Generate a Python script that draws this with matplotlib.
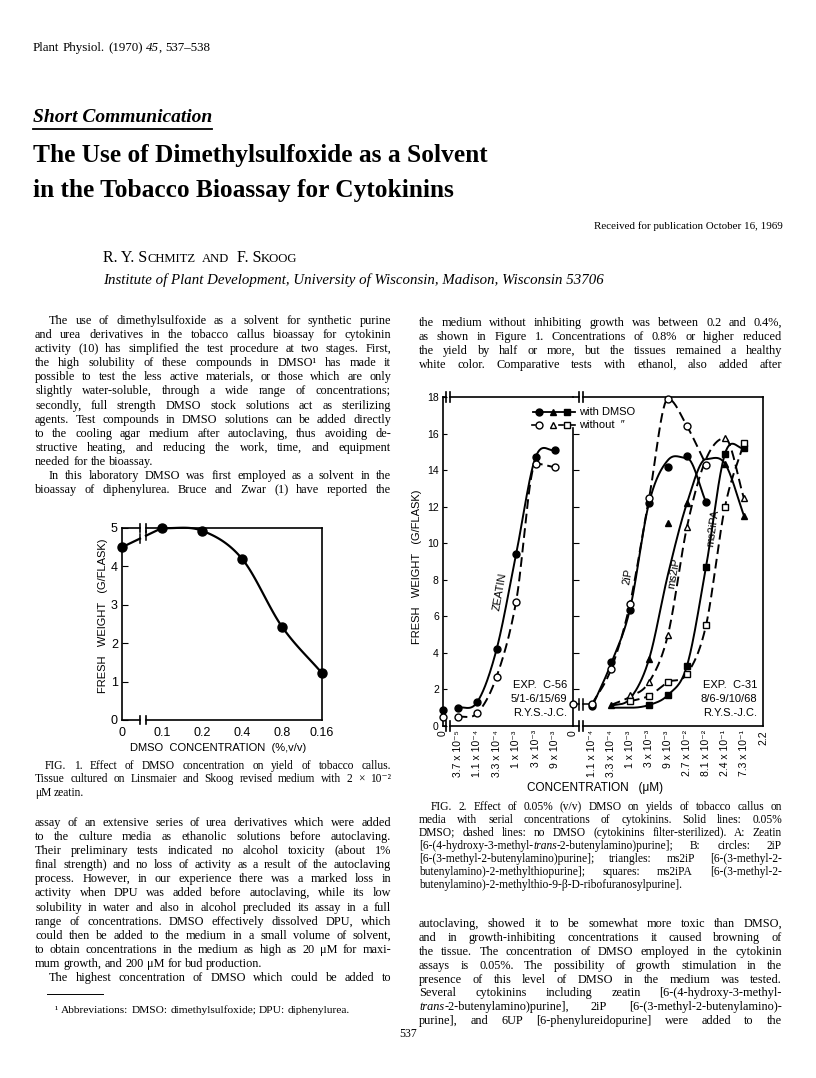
import matplotlib
matplotlib.use('Agg')
import matplotlib.pyplot as plt
import numpy as np

plt.rcParams['font.family'] = 'Liberation Sans'
SANS = ['Liberation Sans', 'DejaVu Sans']
SERIF = ['Liberation Serif', 'DejaVu Serif']

# ---- Fig. 1: yield vs DMSO concentration (categorical positions)
dmso_labels = ['0', '0.1', '0.2', '0.4', '0.8', '0.16']
dmso_weight = [4.5, 5.0, 4.93, 4.2, 2.43, 1.22]

# ---- Fig. 2 A: zeatin (positions are steps of the dilution series)
conc_a_labels = ['0', '3.7 x 10⁻⁵', '1.1 x 10⁻⁴', '3.3 x 10⁻⁴', '1 x 10⁻³', '3 x 10⁻³', '9 x 10⁻³']
conc_a_pos = [0.25, 1, 2, 3, 4, 5, 6]
zeatin_pos = [1, 2, 3, 4, 5, 6]
zeatin_dmso = [1.0, 1.3, 4.2, 9.4, 14.7, 15.1]
zeatin_none = [0.5, 0.7, 2.7, 6.8, 14.35, 14.15]
zeatin_zero = [0.9, 0.5]          # with / without DMSO at 0

# ---- Fig. 2 B: 2iP, ms2iP, ms2iPA
conc_b_labels = ['0', '1.1 x 10⁻⁴', '3.3 x 10⁻⁴', '1 x 10⁻³', '3 x 10⁻³', '9 x 10⁻³',
                 '2.7 x 10⁻²', '8.1 x 10⁻²', '2.4 x 10⁻¹', '7.3 x 10⁻¹', '2.2']
ip_pos = [1, 2, 3, 4, 5, 6, 7]
ip_dmso = [1.1, 3.5, 6.35, 12.2, 14.15, 14.75, 12.25]
ip_dmso_fit = [1.05, 3.4, 6.4, 12.2, 14.55, 14.65, 12.25]
ip_none = [1.2, 3.1, 6.7, 12.45, 17.9, 16.4, 14.3]
ip_zero = 1.2

ms2ip_pos = [2, 4, 5, 6, 8, 9]
ms2ip_dmso = [1.15, 3.65, 11.1, 12.2, 14.35, 11.5]
ms2ip_fit_pos = [2, 3, 4, 5, 6, 7, 8, 9]
ms2ip_dmso_fit = [1.1, 1.5, 3.65, 8.3, 12.2, 14.6, 14.35, 11.5]
ms2ip_none_pos = [3, 4, 5, 6, 8, 9]
ms2ip_none = [1.7, 2.4, 5.0, 10.9, 15.75, 12.45]
ms2ip_none_fit = [1.15, 1.6, 2.4, 5.0, 10.9, 14.6, 15.75, 12.45]

ms2ipa_pos = [4, 5, 6, 7, 8, 9]
ms2ipa_dmso = [1.15, 1.7, 3.3, 8.7, 14.9, 15.2]
ms2ipa_fit_pos = [2, 3, 4, 5, 6, 7, 8, 9]
ms2ipa_dmso_fit = [1.0, 1.0, 1.15, 1.7, 3.3, 8.7, 14.9, 15.2]
ms2ipa_none_pos = [3, 4, 5, 6, 7, 8, 9]
ms2ipa_none = [1.35, 1.65, 2.4, 2.85, 5.5, 12.0, 15.5]


def smooth(xs, ys, n=30):
    # cubic hermite through the points, flat tangent at local peaks
    xs = np.asarray(xs, float)
    ys = np.asarray(ys, float)
    m = np.gradient(ys, xs)
    for i in range(1, len(ys) - 1):
        if (ys[i] - ys[i - 1]) * (ys[i + 1] - ys[i]) <= 0:
            m[i] = 0
    t = np.linspace(0, 1, n)
    h00 = 2 * t**3 - 3 * t**2 + 1
    h10 = t**3 - 2 * t**2 + t
    h01 = -2 * t**3 + 3 * t**2
    h11 = t**3 - t**2
    px, py = [], []
    for i in range(len(xs) - 1):
        h = xs[i + 1] - xs[i]
        px.append(xs[i] + t * h)
        py.append(h00 * ys[i] + h10 * h * m[i] + h01 * ys[i + 1] + h11 * h * m[i + 1])
    return np.concatenate(px), np.concatenate(py)


fig = plt.figure(figsize=(8.16, 10.78), dpi=100)
fig.patch.set_facecolor('white')
page = fig.add_axes([0, 0, 1, 1])
page.set_xlim(0, 816)
page.set_ylim(1078, 0)
page.axis('off')
renderer = fig.canvas.get_renderer()


def put(x, y, s, size, style='normal', weight='normal', **kw):
    fam = SERIF if '⁻' in s else 'Liberation Serif'
    return page.text(x, y, s, fontsize=size, fontstyle=style, fontweight=weight,
                     family=fam, va='baseline', **kw)


def width(t):
    return t.get_window_extent(renderer).width


def put_word(x, base, s, size, style='normal'):
    # Agg rounds each string's bitmap on its own descent; shift so that all
    # words of a line land on the same pixel baseline
    t = put(x, base, s, size, style=style)
    _, h, d = renderer.get_text_width_height_descent(s, t.get_fontproperties(), ismath=False)
    t.set_y(base + np.floor(h) - np.floor(h - d) - d)
    return t


def word(y, w, size):
    # parts between underscores are set in italic
    texts, x = [], 0
    for k, p in enumerate(w.split('_')):
        if not p:
            continue
        t = put_word(x, y, p, size, style='italic' if k % 2 else 'normal')
        texts.append(t)
        x += width(t)
    return texts, x


def block(lines, x0, x1, y0, dy, size, indent=14, first_indent=True, last_ragged=True):
    for i, line in enumerate(lines):
        y = round(y0 + i * dy)
        left = x0 + (indent if (i == 0 and first_indent) else 0)
        groups = [word(y, w, size) for w in line.split()]
        total = sum(g[1] for g in groups)
        if (i == len(lines) - 1 and last_ragged) or len(groups) == 1:
            gap = size * 100 / 72 * 0.25
        else:
            gap = (x1 - left - total) / (len(groups) - 1)
        x = left
        for texts, w in groups:
            for t in texts:
                t.set_x(t.get_position()[0] + x)
            x += w + gap


# ---------------- header
block(['Plant Physiol. (1970) _45_, 537–538'], 33, 400, 51, 14, 9.4, first_indent=False)
sc = put(33, 122, 'Short Communication', 14, style='italic', weight='bold')
page.plot([33, 33 + width(sc)], [129, 129], color='black', lw=1.3)
put(33, 162, 'The Use of Dimethylsulfoxide as a Solvent', 18.3, weight='bold')
put(33, 197, 'in the Tobacco Bioassay for Cytokinins', 18.3, weight='bold')
put(783, 229, 'Received for publication October 16, 1969', 7.9, ha='right')

x = 103
for s, size in [('R. Y. S', 11.5), ('CHMITZ', 9.1), (' ', 0), ('AND', 9.1), (' ', 0),
                ('F. S', 11.5), ('KOOG', 9.1)]:
    if s == ' ':
        x += 7
        continue
    t = put_word(x, 262, s, size)
    x += width(t) + (3 if s.endswith('.') else 0)
put(103, 284, 'Institute of Plant Development, University of Wisconsin, Madison, Wisconsin 53706',
    10.7, style='italic')

# ---------------- body text
left_a = [
    'The use of dimethylsulfoxide as a solvent for synthetic purine',
    'and urea derivatives in the tobacco callus bioassay for cytokinin',
    'activity (10) has simplified the test procedure at two stages. First,',
    'the high solubility of these compounds in DMSO¹ has made it',
    'possible to test the less active materials, or those which are only',
    'slightly water-soluble, through a wide range of concentrations;',
    'secondly, full strength DMSO stock solutions act as sterilizing',
    'agents. Test compounds in DMSO solutions can be added directly',
    'to the cooling agar medium after autoclaving, thus avoiding de-',
    'structive heating, and reducing the work, time, and equipment',
    'needed for the bioassay.',
]
left_b = [
    'In this laboratory DMSO was first employed as a solvent in the',
    'bioassay of diphenylurea. Bruce and Zwar (1) have reported the',
]
left_c = [
    'assay of an extensive series of urea derivatives which were added',
    'to the culture media as ethanolic solutions before autoclaving.',
    'Their preliminary tests indicated no alcohol toxicity (about 1%',
    'final strength) and no loss of activity as a result of the autoclaving',
    'process. However, in our experience there was a marked loss in',
    'activity when DPU was added before autoclaving, while its low',
    'solubility in water and also in alcohol precluded its assay in a full',
    'range of concentrations. DMSO effectively dissolved DPU, which',
    'could then be added to the medium in a small volume of solvent,',
    'to obtain concentrations in the medium as high as 20 μM for maxi-',
    'mum growth, and 200 μM for bud production.',
]
left_d = ['The highest concentration of DMSO which could be added to']
right_a = [
    'the medium without inhibiting growth was between 0.2 and 0.4%,',
    'as shown in Figure 1. Concentrations of 0.8% or higher reduced',
    'the yield by half or more, but the tissues remained a healthy',
    'white color. Comparative tests with ethanol, also added after',
]
right_b = [
    'autoclaving, showed it to be somewhat more toxic than DMSO,',
    'and in growth-inhibiting concentrations it caused browning of',
    'the tissue. The concentration of DMSO employed in the cytokinin',
    'assays is 0.05%. The possibility of growth stimulation in the',
    'presence of this level of DMSO in the medium was tested.',
    'Several cytokinins including zeatin [6-(4-hydroxy-3-methyl-',
    '_trans_-2-butenylamino)purine], 2iP [6-(3-methyl-2-butenylamino)-',
    'purine], and 6UP [6-phenylureidopurine] were added to the',
]
cap1 = [
    'FIG. 1. Effect of DMSO concentration on yield of tobacco callus.',
    'Tissue cultured on Linsmaier and Skoog revised medium with 2 × 10⁻²',
    'μM zeatin.',
]
cap2 = [
    'FIG. 2. Effect of 0.05% (v/v) DMSO on yields of tobacco callus on',
    'media with serial concentrations of cytokinins. Solid lines: 0.05%',
    'DMSO; dashed lines: no DMSO (cytokinins filter-sterilized). A: Zeatin',
    '[6-(4-hydroxy-3-methyl-_trans_-2-butenylamino)purine]; B: circles: 2iP',
    '[6-(3-methyl-2-butenylamino)purine]; triangles: ms2iP [6-(3-methyl-2-',
    'butenylamino)-2-methylthiopurine]; squares: ms2iPA [6-(3-methyl-2-',
    'butenylamino)-2-methylthio-9-β-D-ribofuranosylpurine].',
]

fs = 8.8
block(left_a, 35, 391, 324, 14.1, fs)
block(left_b, 35, 391, 324 + 11 * 14.1, 14.1, fs, last_ragged=False)
block(cap1, 35, 391, 769, 13.5, 8.3, indent=10)
block(left_c, 35, 391, 826, 14.1, fs, first_indent=False)
block(left_d, 35, 391, 826 + 11 * 14.1, 14.1, fs, last_ragged=False)
block(right_a, 419, 782, 326, 14.0, fs, first_indent=False, last_ragged=False)
block(cap2, 419, 782, 810, 13.0, 8.3, indent=12)
block(right_b, 419, 782, 927, 13.9, fs, first_indent=False, last_ragged=False)

page.plot([47, 103], [994, 994], color='black', lw=0.7)
block(['¹ Abbreviations: DMSO: dimethylsulfoxide; DPU: diphenylurea.'], 55, 400, 1013, 14, 8.2,
      first_indent=False)
put(408, 1037, '537', 8.5, ha='center')

# ---------------- Fig. 1
ax1 = fig.add_axes([122 / 816, (1078 - 720) / 1078, 200 / 816, 192 / 1078])
ax1.set_xlim(0, 5)
ax1.set_ylim(0, 5)
for s in ['top', 'bottom']:
    ax1.spines[s].set_visible(False)
for s in ['left', 'right']:
    ax1.spines[s].set_linewidth(1.2)
k = dict(color='black', lw=1.2, clip_on=False)
for yy in (0, 5):
    ax1.plot([0, 0.45], [yy, yy], **k)
    ax1.plot([0.6, 5], [yy, yy], **k)
    for bx in (0.45, 0.6):
        ax1.plot([bx, bx], [yy - 0.1, yy + 0.1], **k)

pos1 = np.arange(len(dmso_weight))
cx, cy = smooth(pos1[1:], dmso_weight[1:])
ax1.plot(cx, cy, color='black', lw=1.6, clip_on=False)
slope = (dmso_weight[1] - dmso_weight[0])
ax1.plot([0, 0.45], [dmso_weight[0], dmso_weight[0] + 0.45 * slope], color='black', lw=1.6, clip_on=False)
ax1.plot([0.6, 1], [dmso_weight[0] + 0.6 * slope, dmso_weight[1]], color='black', lw=1.6, clip_on=False)
for bx in (0.45, 0.6):
    by = dmso_weight[0] + bx * slope
    ax1.plot([bx, bx], [by - 0.12, by + 0.12], color='black', lw=1.1, clip_on=False)
ax1.plot(pos1, dmso_weight, 'o', color='black', ms=6.5, clip_on=False, zorder=5)
ax1.set_yticks(range(6))
ax1.set_xticks(pos1, dmso_labels)
ax1.tick_params(axis='y', direction='in', length=4, labelsize=9, pad=3)
ax1.tick_params(axis='x', length=0, labelsize=9, pad=5)

page.text(103, 616, 'FRESH   WEIGHT   (G/FLASK)', rotation=90, ha='center', va='center', fontsize=8)
page.text(218, 748, 'DMSO  CONCENTRATION  (%,v/v)', ha='center', va='center', fontsize=8)
for i, s in enumerate(['EXP.  XX-2', '10/18-11/14/66', 'R.Y.S.']):
    page.text(284, 668 + i * 14.5, s, ha='center', va='center', fontsize=8)

# ---------------- Fig. 2
bottom2 = (1078 - 726) / 1078
h2 = 329 / 1078
axA = fig.add_axes([443 / 816, bottom2, 130 / 816, h2])
axB = fig.add_axes([573 / 816, bottom2, 190 / 816, h2])
axA.set_xlim(0.25, 6.92)
axB.set_xlim(0, 10)
for ax in (axA, axB):
    ax.set_ylim(0, 18)
    ax.patch.set_alpha(0)
    for s in ['top', 'bottom']:
        ax.spines[s].set_visible(False)
    for s in ['left', 'right']:
        ax.spines[s].set_linewidth(1.2)
axA.spines['right'].set_visible(False)
axB.spines['left'].set_bounds(0, 16.3)

k = dict(color='black', lw=1.2, clip_on=False)
for ax, a, b, lo, hi in [(axA, 0.42, 0.62, 0.25, 6.92), (axB, 0.3, 0.55, 0, 10)]:
    for yy in (0, 18):
        ax.plot([lo, a], [yy, yy], **k)
        ax.plot([b, hi], [yy, yy], **k)
        for bx in (a, b):
            ax.plot([bx, bx], [yy - 0.3, yy + 0.3], **k)

dash = (0, (5, 2.5))
lw2 = 1.4
filled = dict(color='black', ms=5, ls='none', clip_on=False, zorder=5)
hollow = dict(color='black', mfc='white', mew=1, ms=5, ls='none', clip_on=False, zorder=6)

# A: zeatin
x, y = smooth(zeatin_pos, zeatin_dmso)
axA.plot(x, y, color='black', lw=lw2, clip_on=False)
x, y = smooth(zeatin_pos, zeatin_none)
axA.plot(x, y, color='black', lw=lw2, ls=dash, clip_on=False)
axA.plot(zeatin_pos, zeatin_dmso, marker='o', **filled)
axA.plot(zeatin_pos, zeatin_none, marker='o', **hollow)
axA.plot([0.25], [zeatin_zero[0]], marker='o', **filled)
axA.plot([0.25], [zeatin_zero[1]], marker='o', **hollow)

# B: 2iP
x, y = smooth(ip_pos, ip_dmso_fit)
axB.plot(x, y, color='black', lw=lw2, clip_on=False)
x, y = smooth(ip_pos, ip_none)
axB.plot(x, y, color='black', lw=lw2, ls=dash, clip_on=False)
axB.plot([0, 0.3], [ip_zero, ip_zero], color='black', lw=1.1, clip_on=False)
axB.plot([0.3, 0.3], [ip_zero - 0.3, ip_zero + 0.3], color='black', lw=1.1, clip_on=False)
axB.plot([0.55, 1], [ip_zero, ip_none[0]], color='black', lw=1.1, clip_on=False)
axB.plot([0.55, 0.55], [ip_zero - 0.3, ip_zero + 0.3], color='black', lw=1.1, clip_on=False)
axB.plot(ip_pos, ip_dmso, marker='o', **filled)
axB.plot(ip_pos, ip_none, marker='o', **hollow)
axB.plot([0], [ip_zero], marker='o', **hollow)

# B: ms2iP
x, y = smooth(ms2ip_fit_pos, ms2ip_dmso_fit)
axB.plot(x, y, color='black', lw=lw2, clip_on=False)
x, y = smooth(ms2ip_fit_pos, ms2ip_none_fit)
axB.plot(x, y, color='black', lw=lw2, ls=dash, clip_on=False)
axB.plot(ms2ip_pos, ms2ip_dmso, marker='^', **filled)
axB.plot(ms2ip_none_pos, ms2ip_none, marker='^', **hollow)

# B: ms2iPA
x, y = smooth(ms2ipa_fit_pos, ms2ipa_dmso_fit)
axB.plot(x, y, color='black', lw=lw2, clip_on=False)
x, y = smooth(ms2ipa_none_pos, ms2ipa_none)
axB.plot(x, y, color='black', lw=lw2, ls=dash, clip_on=False)
axB.plot(ms2ipa_pos, ms2ipa_dmso, marker='s', **filled)
axB.plot(ms2ipa_none_pos, ms2ipa_none, marker='s', **hollow)

axA.set_yticks(range(0, 19, 2))
axA.tick_params(axis='y', direction='in', length=3, labelsize=7.5, pad=3)
axB.set_yticks(range(2, 17, 2))
axB.tick_params(axis='y', direction='in', length=4, labelleft=False)
axA.set_xticks(conc_a_pos, conc_a_labels, rotation=90, family=SANS)
axB.set_xticks(range(len(conc_b_labels)), conc_b_labels, rotation=90, family=SANS)
for ax in (axA, axB):
    ax.tick_params(axis='x', length=0, labelsize=7.5, pad=3)

page.text(417, 567, 'FRESH   WEIGHT   (G/FLASK)', rotation=90, ha='center', va='center', fontsize=8)
page.text(595, 788, 'CONCENTRATION   (μM)', ha='center', va='center', fontsize=8.5)
for i, s in enumerate(['EXP.  C-56', '5/1-6/15/69', 'R.Y.S.-J.C.']):
    page.text(567, 685 + i * 14, s, ha='right', va='center', fontsize=8)
for i, s in enumerate(['EXP.  C-31', '8/6-9/10/68', 'R.Y.S.-J.C.']):
    page.text(757, 685 + i * 14, s, ha='right', va='center', fontsize=8)
page.text(500, 592, 'ZEATIN', rotation=80, ha='center', va='center', fontsize=8)
page.text(628, 577, '2iP', rotation=80, ha='center', va='center', fontsize=8)
page.text(674, 573, 'ms2iP', rotation=80, ha='center', va='center', fontsize=8)
page.text(713, 528, 'ms2iPA', rotation=82, ha='center', va='center', fontsize=8)

# legend
page.plot([533, 575], [412, 412], color='black', lw=1.3)
for mx, mk in [(539, 'o'), (553, '^'), (567, 's')]:
    page.plot([mx], [412], marker=mk, color='black', ms=5, ls='none')
    page.plot([mx], [425], marker=mk, color='black', mfc='white', mew=1, ms=5, ls='none')
for a, b in [(532, 535), (559, 563), (571, 575)]:
    page.plot([a, b], [425, 425], color='black', lw=1.2)
page.text(579, 412, 'with DMSO', va='center', fontsize=8)
page.text(579, 425, 'without  ″', va='center', fontsize=8, family=SANS)

fig.savefig('out.png', dpi=100, facecolor='white')
